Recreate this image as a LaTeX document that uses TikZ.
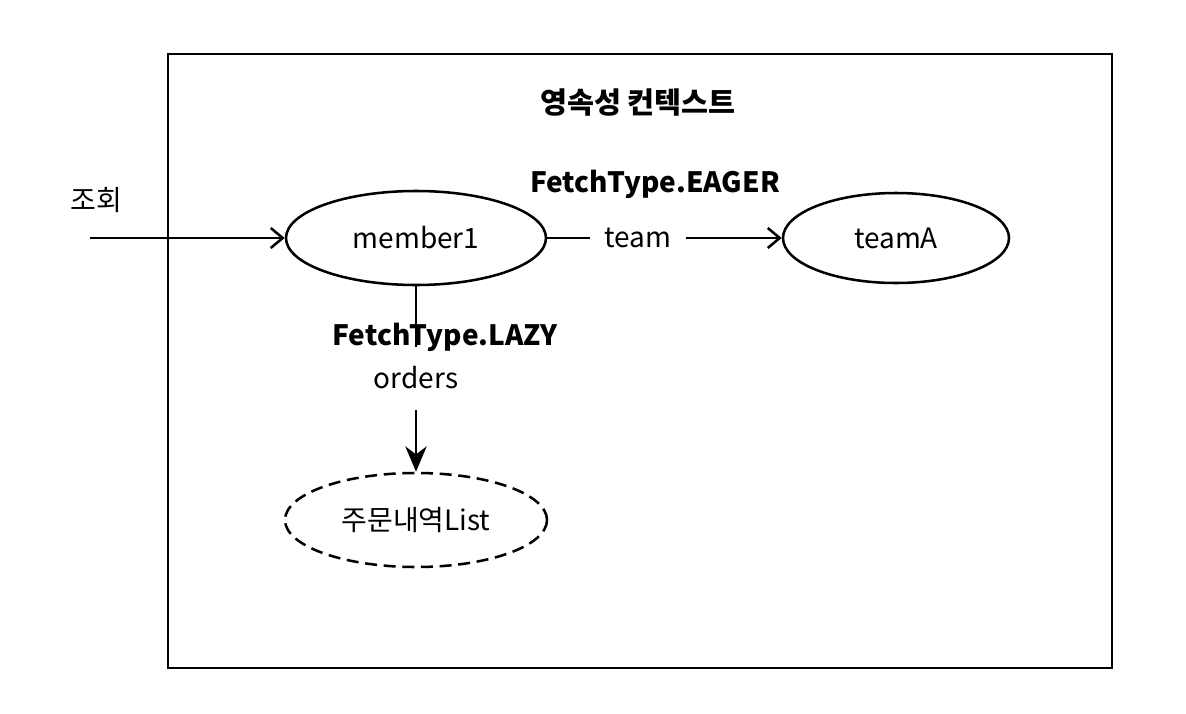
\documentclass[tikz,border=0pt]{standalone}
\usepackage{fontspec}
\setmainfont{Noto Sans CJK KR}
\usetikzlibrary{shapes.geometric,arrows.meta}
\tikzset{
  every node/.style={font=\fontsize{21}{25}\selectfont},
  ent/.style={draw, ellipse, line width=1.9pt, inner sep=0pt},
  boldlbl/.style={font=\fontsize{21}{25}\selectfont\bfseries},
  titlelbl/.style={font=\fontsize{22}{26}\selectfont\bfseries},
  openarr/.style={line width=1.9pt, -{Straight Barb[length=9pt,width=15pt,line width=1.9pt]}},
  lazyarr/.style={line width=1.9pt, -{Stealth[length=19pt,width=16pt,inset=6pt]}},
  plain/.style={line width=1.9pt}
}
\begin{document}
\begin{tikzpicture}[x=0.75pt,y=-0.75pt]
\useasboundingbox (0,0) rectangle (1186,714);
\fill[white] (0,0) rectangle (1186,714);
\draw[line width=2.2pt] (168,54) rectangle (1112,668);
\node[titlelbl] (title) at (638,103) {영속성 컨텍스트};
\node (query) at (96,200) {조회};
\coordinate (start) at (90,238);
\node[ent, minimum width=195pt, minimum height=70.5pt] (member1) at (416,238) {member1};
\node[ent, minimum width=169.5pt, minimum height=67.5pt] (teamA) at (896,238) {teamA};
\node[ent, dashed, dash pattern=on 9pt off 5pt, minimum width=196.5pt, minimum height=70.5pt] (list) at (416,520) {주문내역List};
\node[boldlbl] (eager) at (655,184) {FetchType.EAGER};
\node[inner xsep=11pt, inner ysep=0pt] (team) at (638,238) {team};
\draw[openarr] (start) -- (member1.west);
\draw[plain] (member1.east) -- (team.west);
\draw[openarr] (team.east) -- (teamA.west);
\coordinate (lazyend) at (416,347);
\draw[plain] (member1.south) -- (lazyend);
\node[boldlbl] (lazy) at (445,337) {FetchType.LAZY};
\node[inner ysep=14pt] (orders) at (416,378) {orders};
\draw[lazyarr] (416,410) -- (list.north);
\end{tikzpicture}
\end{document}
